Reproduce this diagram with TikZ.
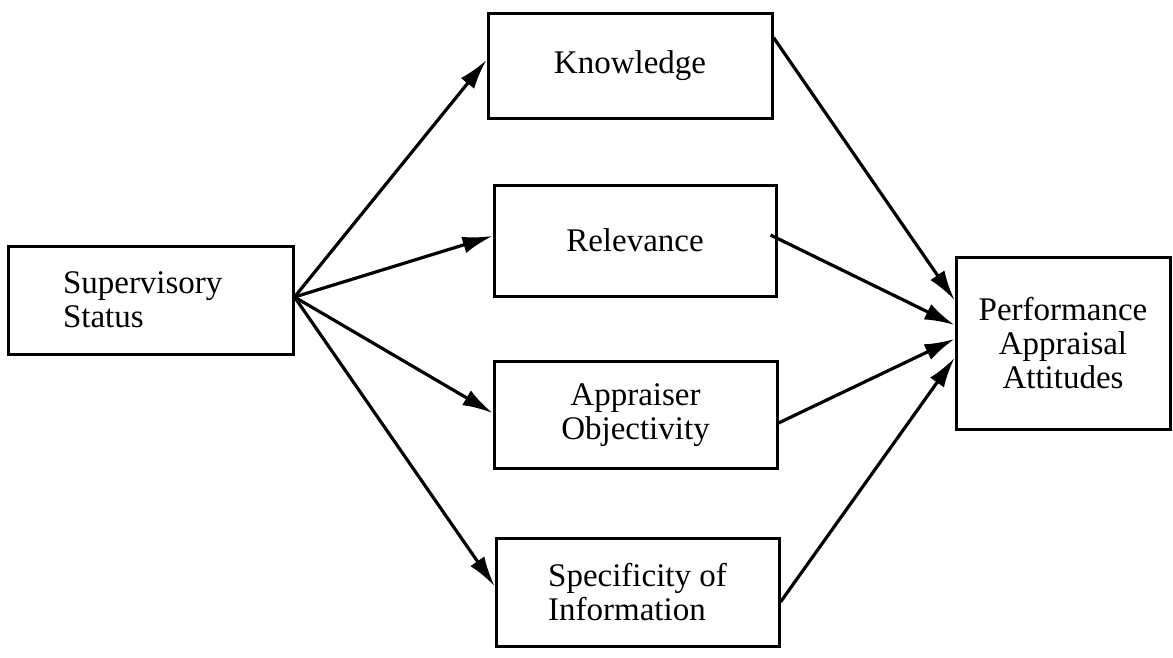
\documentclass[tikz,border=0pt]{standalone}
\usepackage{fontspec}
\setmainfont{Liberation Serif}
\usetikzlibrary{arrows.meta}
\begin{document}
\begin{tikzpicture}[x=1pt,y=-1pt,
  box/.style={draw, line width=3pt, rectangle, inner sep=4pt, font=\fontsize{33pt}{34pt}\selectfont},
  link/.style={line width=3.2pt, -{Latex[length=30pt,width=17pt]}}]
\useasboundingbox (0,0) rectangle (1173,657);
\node[box, minimum width=285pt, minimum height=108pt, text width=175pt, align=left] (sup) at (150.5,300) {Supervisory\\Status};
\node[box, minimum width=284pt, minimum height=105pt] (know) at (630,65.5) {Knowledge};
\node[box, minimum width=282pt, minimum height=111pt] (rel) at (635,240.5) {Relevance};
\node[box, minimum width=283pt, minimum height=107pt, align=center] (app) at (635.5,415) {Appraiser\\Objectivity};
\node[box, minimum width=283pt, minimum height=108pt, align=left] (spec) at (637.5,592) {Specificity of\\Information};
\node[box, minimum width=214pt, minimum height=172pt, align=center] (perf) at (1063,343) {Performance\\Appraisal\\Attitudes};

\draw[link] ([yshift=3pt]sup.east) -- ([yshift=5.5pt]know.west);
\draw[link] ([yshift=3pt]sup.east) -- ([yshift=4.5pt]rel.west);
\draw[link] ([yshift=3pt]sup.east) -- ([yshift=2pt]app.west);
\draw[link] ([yshift=3pt]sup.east) -- ([yshift=6pt]spec.west);

\draw[link] ([yshift=28pt]know.east) -- ([yshift=43pt]perf.west);
\draw[link] ([xshift=-7pt,yshift=5.5pt]rel.east) -- ([yshift=18pt]perf.west);
\draw[link] ([yshift=-8pt]app.east) -- ([yshift=4pt]perf.west);
\draw[link] ([yshift=-10pt]spec.east) -- ([yshift=-15pt]perf.west);
\end{tikzpicture}
\end{document}
